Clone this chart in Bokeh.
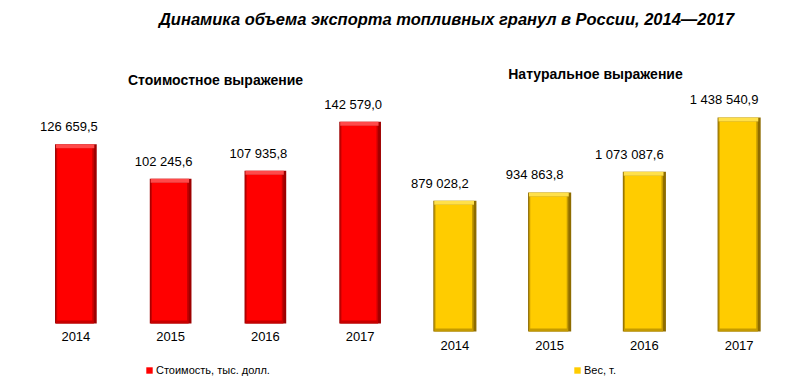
from bokeh.plotting import figure
from bokeh.models import (ColumnDataSource, LabelSet, Label, Legend, LegendItem, Range1d,
                          FactorRange)
from bokeh.core.properties import value
from bokeh.transform import dodge
from bokeh.embed import file_html
from bokeh.resources import INLINE

title_text = "Динамика объема экспорта топливных гранул в России, 2014\u20142017"
years = ["2014", "2015", "2016", "2017"]
value_usd = [126659.5, 102245.6, 107935.8, 142579.0]
weight_t = [879028.2, 934863.8, 1073087.6, 1438540.9]
left_subtitle = "Стоимостное выражение"
right_subtitle = "Натуральное выражение"
left_legend = "Стоимость, тыс. долл."
right_legend = "Вес, т."


def fmt(v):
    return f"{v:,.1f}".replace(",", " ").replace(".", ",")


FONT = "Liberation Sans"
W, H = 803, 388
FRAME_H = H
# pixels per data unit and baseline height (px above frame bottom) for each panel
L_SCALE, L_BASE = 0.001415, 65
R_SCALE, R_BASE = 0.0001488, 57

factors = [("usd", y) for y in years] + [("t", y) for y in years]

p = figure(x_range=FactorRange(*factors, range_padding=0, group_padding=0,
                               factor_padding=0, subgroup_padding=0),
           y_range=Range1d(-R_BASE / R_SCALE, (FRAME_H - R_BASE) / R_SCALE),
           width=W, height=H, output_backend="svg", toolbar_location=None,
           min_border_left=28, min_border_right=17, min_border_top=0, min_border_bottom=0)
p.extra_y_ranges = {"left": Range1d(-L_BASE / L_SCALE, (FRAME_H - L_BASE) / L_SCALE)}
p.outline_line_color = None
p.xgrid.visible = False
p.ygrid.visible = False
p.xaxis.visible = False
p.yaxis.visible = False


def panel(group, values, scale, y_range_name, bar_w, colors, label_dx, cat_offset):
    main, edge, light, bottom = colors
    t = 4 / scale
    src = ColumnDataSource(dict(
        x=[(group, y) for y in years], year=years, v=values, lab=[fmt(x) for x in values],
        zero=[0 for _ in values],
        inner_top=[x - t for x in values],
        inner_bot=[3 / scale for _ in values],
    ))
    kw = dict(y_range_name=y_range_name) if y_range_name else {}
    p.vbar(x="x", top="v", bottom=0, width=bar_w, source=src,
           fill_color=edge, line_color=None, **kw)
    p.vbar(x=dodge("x", -0.01, range=p.x_range), top="inner_top", bottom=0,
           width=bar_w - 0.04, source=src, fill_color=bottom, line_color=None, **kw)
    inner = p.vbar(x=dodge("x", -0.012, range=p.x_range), top="inner_top", bottom="inner_bot",
                   width=bar_w - 0.07, source=src, fill_color=main, line_color=None, **kw)
    p.vbar(x=dodge("x", -0.008, range=p.x_range), top="v", bottom="inner_top",
           width=bar_w - 0.035, source=src, fill_color=light, line_color=None, **kw)

    p.add_layout(LabelSet(x="x", y="v", text="lab", source=src, x_offset=label_dx, y_offset=10,
                          text_align="center", text_baseline="bottom",
                          text_font=value(FONT), text_font_size=value("13px"),
                          text_color="#000000", **kw))
    p.add_layout(LabelSet(x="x", y="zero", text="year", source=src, y_offset=-cat_offset,
                          text_align="center", text_baseline="top",
                          text_font=value(FONT), text_font_size=value("13px"),
                          text_color="#000000", **kw))
    return inner


l_inner = panel("usd", value_usd, L_SCALE, "left", 0.44,
                ("#FF0000", "#9E0000", "#FF4A4A", "#C80000"), -7, 8)
r_inner = panel("t", weight_t, R_SCALE, None, 0.455,
                ("#FFCC00", "#8E6C00", "#FFE04A", "#C49A00"), -15, 9)

for txt, xy in [(left_subtitle, (187, 309)), (right_subtitle, (567, 315))]:
    p.add_layout(Label(x=xy[0], y=xy[1], x_units="screen", y_units="screen",
                       text=txt, text_align="center", text_baseline="middle",
                       text_font=FONT, text_font_style="bold", text_font_size="14px",
                       text_color="#000000"))

p.add_layout(Label(x=418, y=370, x_units="screen", y_units="screen", text=title_text,
                   text_align="center", text_baseline="middle",
                   text_font=FONT, text_font_style="bold italic", text_font_size="16.5px",
                   text_color="#000000"))

for txt, rend, loc in [(left_legend, l_inner, (117, 12)), (right_legend, r_inner, (545, 12))]:
    p.add_layout(Legend(items=[LegendItem(label=txt, renderers=[rend])],
                        orientation="horizontal", location=loc,
                        glyph_width=8, glyph_height=8, label_height=12, label_standoff=3,
                        padding=2, margin=0, border_line_color=None,
                        background_fill_alpha=0,
                        label_text_font=FONT, label_text_font_size="11px",
                        label_text_color="#000000"))

open("out.html", "w").write(file_html(p, INLINE))
